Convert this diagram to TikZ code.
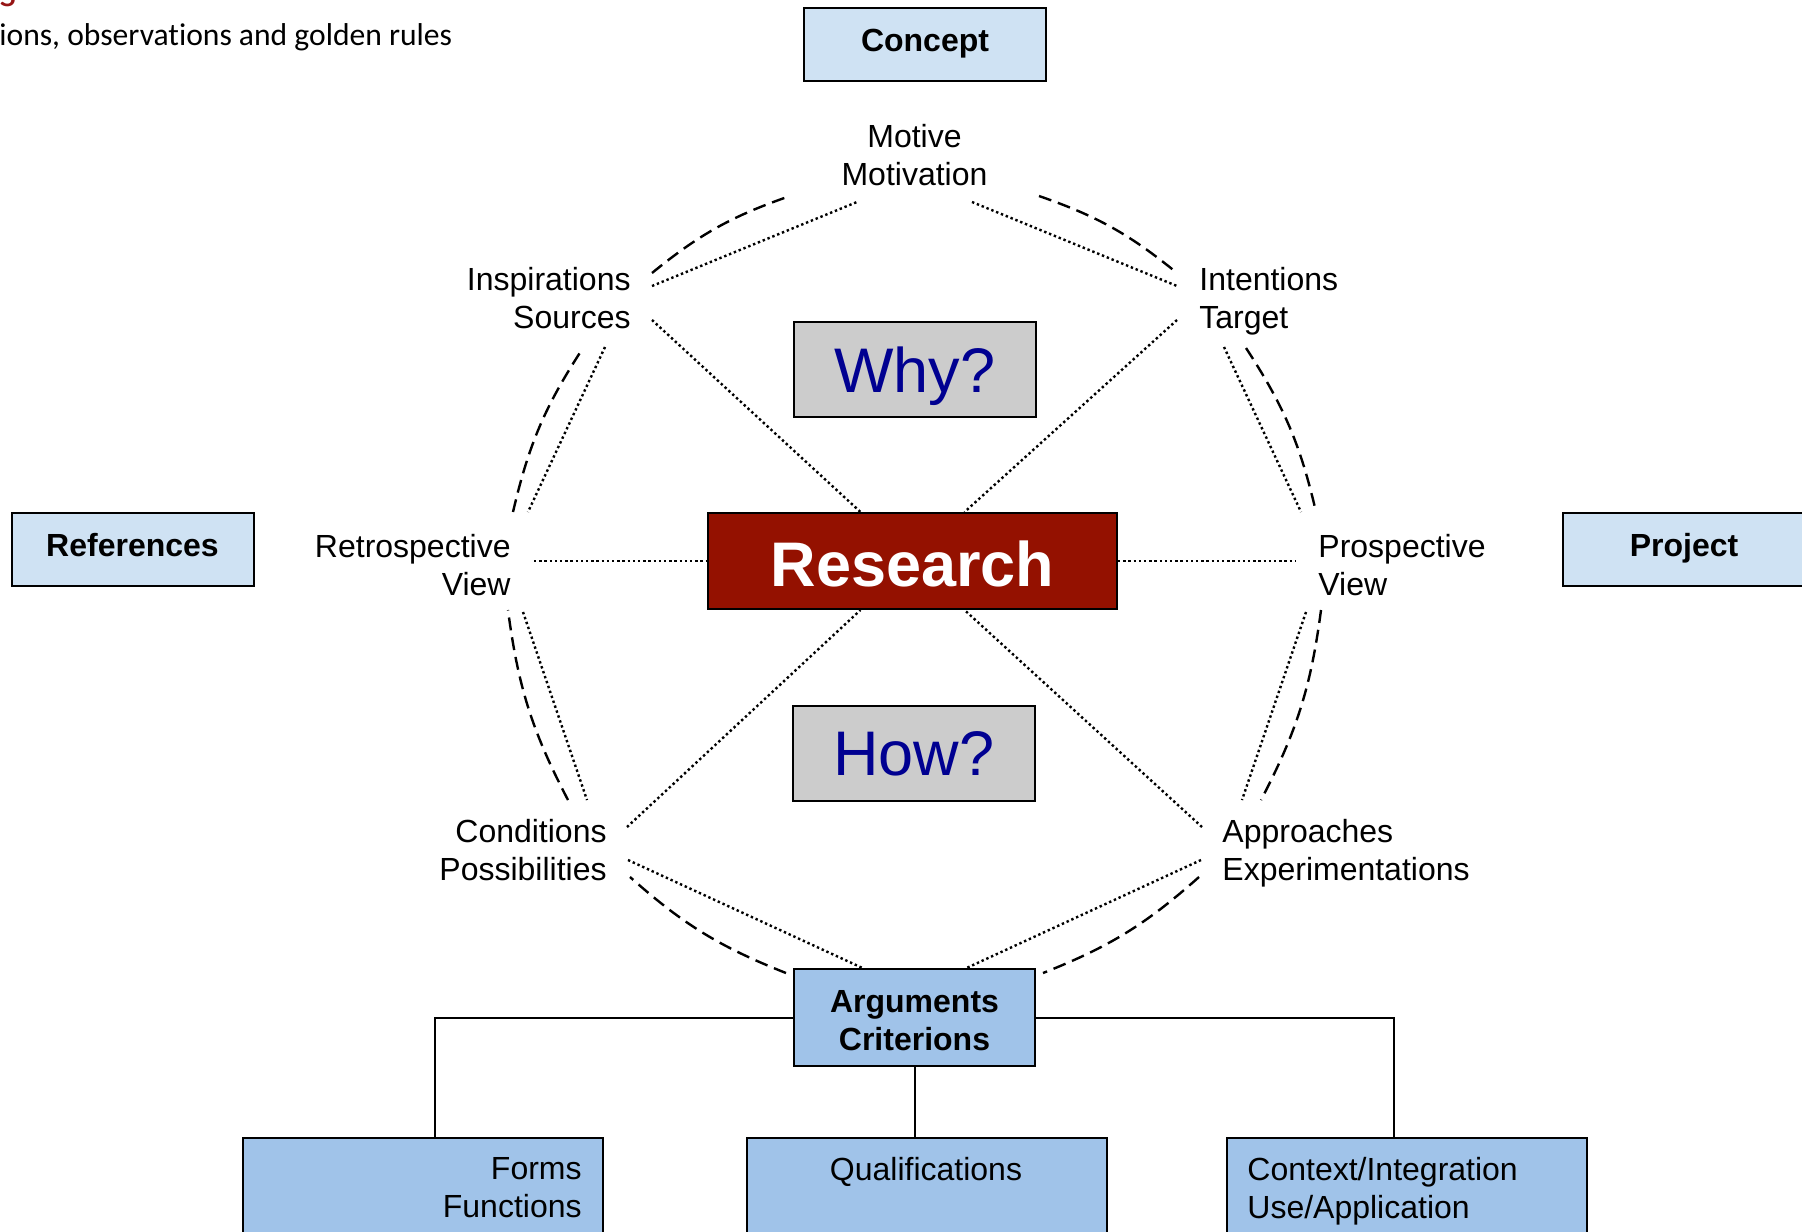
\documentclass[tikz,border=0pt]{standalone}
\usepackage{fontspec}
\setmainfont{Liberation Sans}
\newfontfamily\gillfont[Ligatures=NoCommon]{Carlito}
\usetikzlibrary{calc}
\definecolor{lightblue}{RGB}{207,226,243}
\definecolor{medblue}{RGB}{160,195,233}
\definecolor{boxgray}{RGB}{204,204,204}
\definecolor{navytext}{RGB}{0,0,145}
\definecolor{researchred}{RGB}{148,17,0}
\definecolor{titlered}{RGB}{150,20,20}
\begin{document}
\begin{tikzpicture}[x=0.5pt,y=-0.5pt,
  boxframe/.style={draw=black, line width=1pt},
  conceptbox/.style={boxframe, fill=lightblue, minimum width=121pt, minimum height=36.5pt, inner sep=0pt, font=\fontsize{16}{19}\selectfont\bfseries, text height=11.5pt, text depth=5pt},
  questionbox/.style={boxframe, fill=boxgray, minimum width=121pt, minimum height=47.5pt, inner sep=0pt, font=\fontsize{31.5}{36}\selectfont, text=navytext, text depth=0pt},
  researchbox/.style={boxframe, fill=researchred, minimum width=204.5pt, minimum height=48pt, inner sep=0pt, text=white, font=\fontsize{31.5}{36}\selectfont\bfseries, text height=25.5pt, text depth=0pt},
  argbox/.style={boxframe, fill=medblue, minimum width=120.5pt, minimum height=48.5pt, inner sep=0pt, align=center, font=\fontsize{16}{19}\selectfont\bfseries},
  leafbox/.style={boxframe, fill=medblue, minimum width=180pt, minimum height=70pt, inner sep=0pt, anchor=north},
  lbl/.style={inner sep=0pt, font=\fontsize{16}{19}\selectfont},
  dotline/.style={line width=1.2pt, dash pattern=on 1.2pt off 1.4pt},
  dashline/.style={line width=1.2pt, dash pattern=on 6.5pt off 3.5pt},
  treeline/.style={line width=1pt}
]
\useasboundingbox (0,0) rectangle (1802,1231);

% title fragments
\node[anchor=base east, inner sep=0pt, text=titlered, font=\gillfont\fontsize{22}{26}\selectfont] (titlefrag) at (17,6) {s};
\node[anchor=base west, inner sep=0pt, font=\gillfont\fontsize{15.8}{19}\selectfont] (subtitle) at (-1,45) {ions, observations and golden rules};

% boxes
\node[conceptbox] (concept) at (925,44.5) {Concept};
\node[conceptbox] (refs) at (132.5,549.5) {References};
\node[conceptbox] (project) at (1684,549.5) {Project};
\node[questionbox] (why) at (915,369.5) {Why?};
\node[questionbox] (how) at (914,753.5) {How?};
\node[researchbox] (research) at (912.5,561) {Research};
\node[argbox] (args) at (914.5,1017.5) {\rule{0pt}{14.5pt}Arguments\\Criterions};
\node[leafbox] (forms) at (423,1137) {};
\node[leafbox] (qual) at (927,1137) {};
\node[leafbox] (context) at (1407,1137) {};

\node[lbl, anchor=north east, align=right] (formstxt) at (582,1157) {Forms\\Functions};
\node[lbl, anchor=north] (qualtxt) at (926,1157) {Qualifications};
\node[lbl, anchor=north west, align=left] (contexttxt) at (1247,1157) {Context/Integration\\Use/Application};

% radial labels
\node[lbl, anchor=north, align=center] (motive) at (914.5,124) {Motive\\Motivation};
\node[lbl, anchor=north east, align=right] (insp) at (631,267) {Inspirations\\Sources};
\node[lbl, anchor=north west, align=left] (intent) at (1199,267) {Intentions\\Target};
\node[lbl, anchor=north east, align=right] (retro) at (511,534) {Retrospective\\View};
\node[lbl, anchor=north west, align=left] (prosp) at (1318,534) {Prospective\\View};
\node[lbl, anchor=north east, align=right] (cond) at (607,819) {Conditions\\Possibilities};
\node[lbl, anchor=north west, align=left] (appr) at (1222,819) {Approaches\\Experimentations};

% connector end points
\coordinate (iM1) at (652,286);  \coordinate (mI1) at (857,202);
\coordinate (mN1) at (972,202);  \coordinate (nM1) at (1177,286);
\coordinate (iMd) at (652,273);  \coordinate (mId) at (790,196);
\coordinate (mNd) at (1039,196); \coordinate (nMd) at (1177,273);
\coordinate (iR) at (652,320);   \coordinate (nR) at (1177,320);
\coordinate (iRo) at (605,347);  \coordinate (rI) at (528,512);
\coordinate (nP) at (1224,347);  \coordinate (pN) at (1301,512);
\coordinate (iRd) at (583,348);  \coordinate (rId) at (513,512);
\coordinate (nPd) at (1246,348); \coordinate (pNd) at (1316,512);
\coordinate (rR) at (534,561);   \coordinate (pR) at (1295,561);
\coordinate (rCd) at (508,610);  \coordinate (cRd) at (568,800);
\coordinate (pAd) at (1321,610); \coordinate (aPd) at (1261,800);
\coordinate (rC) at (523,612);   \coordinate (cR) at (587,800);
\coordinate (pA) at (1306,612);  \coordinate (aP) at (1242,800);
\coordinate (cRe) at (627,827);  \coordinate (aRe) at (1202,827);
\coordinate (cA) at (628,860);   \coordinate (aA) at (1201,860);
\coordinate (cAd) at (630,877);  \coordinate (argLd) at (786,973);
\coordinate (aAd) at (1199,877); \coordinate (argRd) at (1043,973);

% dotted connectors
\draw[dotline] (iM1) -- (mI1);
\draw[dotline] (mN1) -- (nM1);
\draw[dotline] (iR) -- ([xshift=-26pt]research.north);
\draw[dotline] (nR) -- ([xshift=26pt]research.north);
\draw[dotline] (iRo) -- (rI);
\draw[dotline] (nP) -- (pN);
\draw[dotline] (rR) -- (research.west);
\draw[dotline] (research.east) -- (pR);
\draw[dotline] (rC) -- (cR);
\draw[dotline] (pA) -- (aP);
\draw[dotline] (cRe) -- ([xshift=-26pt]research.south);
\draw[dotline] (aRe) -- ([xshift=26pt]research.south);
\draw[dotline] (cA) -- ([xshift=-26pt]args.north);
\draw[dotline] (aA) -- ([xshift=26pt]args.north);

% dashed arcs (clockwise, bulging outward)
\draw[dashline] (rId) to[bend left=10] (iRd);
\draw[dashline] (iMd) to[bend left=10] (mId);
\draw[dashline] (mNd) to[bend left=10] (nMd);
\draw[dashline] (nPd) to[bend left=10] (pNd);
\draw[dashline] (pAd) to[bend left=10] (aPd);
\draw[dashline] (aAd) to[bend left=10] (argRd);
\draw[dashline] (argLd) to[bend left=10] (cAd);
\draw[dashline] (cRd) to[bend left=10] (rCd);

% tree
\draw[treeline] (args.west) -| ([xshift=6pt]forms.north);
\draw[treeline] (args.east) -| ([xshift=-6.5pt]context.north);
\draw[treeline] (args.south) -- (args.south |- qual.north);
\end{tikzpicture}
\end{document}
